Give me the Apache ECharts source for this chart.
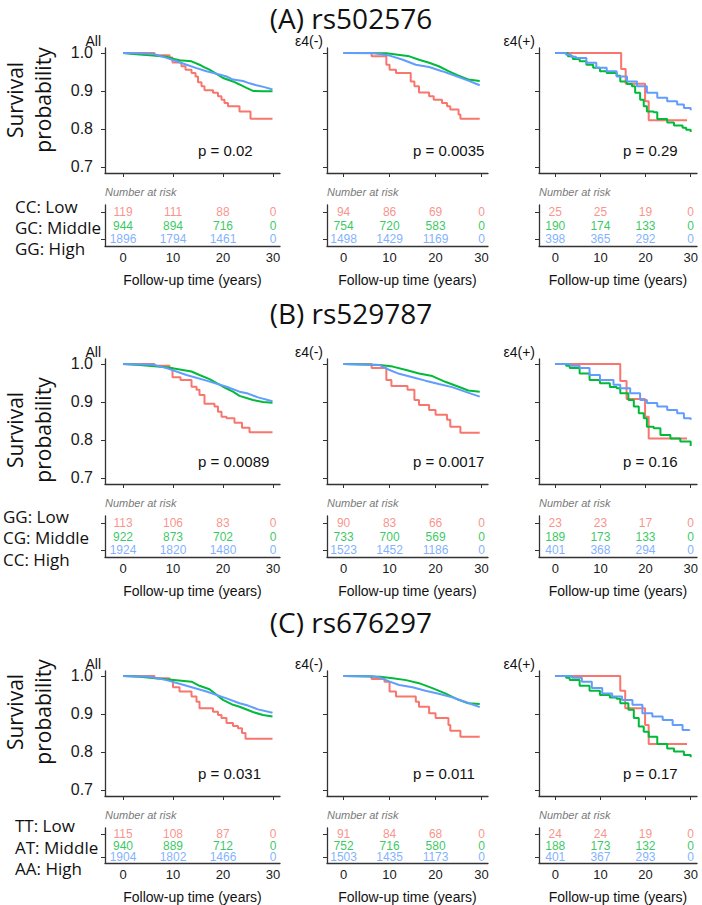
<!DOCTYPE html>
<html>
<head>
<meta charset="utf-8">
<script src="https://cdn.jsdelivr.net/npm/echarts@6/dist/echarts.min.js"></script>
<style>
html, body { margin: 0; padding: 0; background: #fff; }
#chart { width: 702px; height: 905px; }
</style>
</head>
<body>
<div id="chart"></div>
<script>
// ---- data ----
const timeTicks = [0, 10, 20, 30];
const survTicks = [0.7, 0.8, 0.9, 1.0];
const riskRows = ['High', 'Middle', 'Low'];
const snpTitles = ['(A) rs502576', '(B) rs529787', '(C) rs676297'];
const subsetNames = ['All', 'ε4(-)', 'ε4(+)'];
const groupLabels = [
  ['CC: Low', 'GC: Middle', 'GG: High'],
  ['GG: Low', 'CG: Middle', 'CC: High'],
  ['TT: Low', 'AT: Middle', 'AA: High']
];
const pValues = [
  ['p = 0.02', 'p = 0.0035', 'p = 0.29'],
  ['p = 0.0089', 'p = 0.0017', 'p = 0.16'],
  ['p = 0.031', 'p = 0.011', 'p = 0.17']
];

// number at risk: rows low / middle / high, at 0,10,20,30 years
const riskA_all = [[119, 111, 88, 0], [944, 894, 716, 0], [1896, 1794, 1461, 0]];
const riskA_neg = [[94, 86, 69, 0], [754, 720, 583, 0], [1498, 1429, 1169, 0]];
const riskA_pos = [[25, 25, 19, 0], [190, 174, 133, 0], [398, 365, 292, 0]];
const riskB_all = [[113, 106, 83, 0], [922, 873, 702, 0], [1924, 1820, 1480, 0]];
const riskB_neg = [[90, 83, 66, 0], [733, 700, 569, 0], [1523, 1452, 1186, 0]];
const riskB_pos = [[23, 23, 17, 0], [189, 173, 133, 0], [401, 368, 294, 0]];
const riskC_all = [[115, 108, 87, 0], [940, 889, 712, 0], [1904, 1802, 1466, 0]];
const riskC_neg = [[91, 84, 68, 0], [752, 716, 580, 0], [1503, 1435, 1173, 0]];
const riskC_pos = [[24, 24, 19, 0], [188, 173, 132, 0], [401, 367, 293, 0]];

// survival curves [years, probability]
const a_all_low = [[0,1],[6.3,0.994],[9.3,0.988],[9.9,0.975],[11.7,0.965],[12.5,0.956],[13.7,0.947],[14.5,0.938],[15,0.923],[15.7,0.912],[16.3,0.902],[18,0.895],[19,0.886],[19.7,0.877],[20.3,0.868],[21,0.86],[23.3,0.846],[25.5,0.827],[29.9,0.827]];
const a_all_mid = [[0,1],[1.5,0.998],[3.3,0.996],[6,0.993],[8.7,0.99],[10,0.985],[11.3,0.981],[13.7,0.978],[15.3,0.969],[16.3,0.962],[17.3,0.956],[18.7,0.945],[20,0.934],[22,0.925],[23.3,0.917],[24.7,0.908],[26,0.9],[28,0.899],[29.9,0.899]];
const a_all_high = [[0,1],[3,0.999],[6.1,0.997],[8.7,0.987],[10.7,0.978],[12.7,0.969],[14.7,0.96],[16.7,0.952],[18.7,0.945],[20.7,0.938],[22,0.93],[24,0.926],[25.3,0.92],[26.7,0.915],[28.3,0.91],[29.9,0.904]];
const a_neg_low = [[0,1],[6.1,0.991],[9.3,0.969],[10,0.956],[11.4,0.947],[14.6,0.925],[15.4,0.912],[16.4,0.896],[18.6,0.886],[19.6,0.877],[21.4,0.868],[22.5,0.86],[23.2,0.851],[25,0.838],[25.4,0.827],[29.6,0.827]];
const a_neg_mid = [[0,1],[9.3,0.999],[11.4,0.996],[14.3,0.991],[16.4,0.982],[18.6,0.974],[20.7,0.965],[22.8,0.952],[25,0.94],[27.1,0.93],[29.6,0.926]];
const a_neg_high = [[0,1],[6.3,1],[10,0.993],[12.9,0.982],[15.7,0.969],[18.6,0.963],[21.4,0.952],[24.3,0.94],[27.1,0.927],[29.6,0.915]];
const a_pos_low = [[0,1],[14.6,0.958],[15.6,0.919],[19.9,0.873],[20.7,0.823],[29.2,0.823]];
const a_pos_mid = [[0,1],[2.8,0.991],[3.9,0.984],[5.4,0.978],[6.9,0.969],[8.4,0.961],[9.9,0.952],[11.4,0.947],[13.6,0.94],[14.4,0.925],[15.9,0.918],[17,0.912],[17.7,0.895],[18.8,0.877],[19.6,0.86],[20.3,0.846],[21.8,0.844],[22.6,0.826],[24.8,0.817],[26.3,0.809],[28.2,0.803],[29,0.798],[30,0.792]];
const a_pos_high = [[0,1],[2.4,0.995],[3.5,0.99],[4.6,0.987],[6.9,0.974],[9.1,0.961],[11.4,0.952],[13.6,0.938],[15.9,0.925],[18.1,0.912],[20.3,0.895],[22.6,0.882],[24.8,0.873],[27,0.864],[28.5,0.855],[30,0.849]];

const b_all_low = [[0,1],[6.3,0.995],[9.3,0.989],[9.9,0.965],[11.5,0.958],[13.7,0.94],[14.7,0.932],[15.3,0.918],[16.3,0.895],[18.3,0.888],[19,0.874],[19.7,0.861],[20.7,0.857],[22.3,0.845],[23.8,0.832],[25.3,0.82],[29.9,0.82]];
const b_all_mid = [[0,1],[3.3,0.997],[8.7,0.991],[13.7,0.98],[15.3,0.971],[17.3,0.96],[20,0.94],[22,0.927],[23.3,0.916],[26,0.905],[28,0.9],[29.9,0.898]];
const b_all_high = [[0,1],[6,0.998],[8.7,0.989],[12.7,0.971],[16.7,0.956],[20.7,0.94],[23.3,0.927],[25,0.922],[27,0.912],[29.9,0.902]];
const b_neg_low = [[0,1],[6.1,0.989],[9.3,0.958],[10.4,0.942],[13.9,0.932],[15.4,0.905],[16.4,0.892],[18.6,0.879],[20,0.866],[22.5,0.853],[23.2,0.835],[25.4,0.819],[29.6,0.819]];
const b_neg_mid = [[0,1],[7.9,0.997],[10.7,0.993],[13.6,0.984],[16.4,0.975],[19.3,0.968],[22.1,0.953],[25,0.94],[27.1,0.93],[29.6,0.927]];
const b_neg_high = [[0,1],[6.3,0.998],[7.9,0.997],[10,0.984],[12.1,0.974],[15,0.965],[17.8,0.956],[20.7,0.947],[23.6,0.939],[26.4,0.927],[29.6,0.914]];
const b_pos_low = [[0,1],[14.4,0.955],[15.8,0.908],[19.9,0.861],[20.7,0.804],[29.2,0.804]];
const b_pos_mid = [[0,1],[2.4,0.995],[3.2,0.989],[5.4,0.975],[7.6,0.958],[9.9,0.949],[12.1,0.939],[13.6,0.936],[14.4,0.923],[16.2,0.905],[17.4,0.888],[18.5,0.87],[19.6,0.857],[20.3,0.835],[21.8,0.831],[23.3,0.813],[25.5,0.804],[27.7,0.796],[30,0.784]];
const b_pos_high = [[0,1],[3.3,0.995],[5.4,0.989],[7.6,0.971],[9.9,0.958],[12.9,0.945],[14.4,0.936],[16.6,0.923],[18.8,0.905],[20.3,0.897],[22.6,0.888],[24.8,0.879],[27,0.87],[28.5,0.857],[30,0.853]];

const c_all_low = [[0,1],[6.3,0.994],[9.3,0.989],[10,0.97],[11.3,0.959],[13.7,0.946],[14.7,0.932],[15.3,0.915],[18,0.906],[19,0.897],[19.7,0.889],[20.7,0.876],[22,0.868],[23,0.862],[23.8,0.85],[24.5,0.835],[29.9,0.835]];
const c_all_mid = [[0,1],[3.3,0.998],[8.7,0.991],[13.7,0.985],[15.3,0.974],[17.3,0.965],[20,0.937],[22,0.924],[23.3,0.919],[26,0.905],[28,0.897],[29.9,0.893]];
const c_all_high = [[0,1],[5.3,0.998],[8.7,0.989],[12.7,0.974],[16.7,0.959],[20.7,0.941],[23.3,0.928],[25,0.922],[27,0.912],[29.9,0.903]];
const c_neg_low = [[0,1],[6.1,0.992],[8.9,0.985],[10,0.959],[11.4,0.946],[15.7,0.932],[16.4,0.919],[18.6,0.902],[20,0.889],[22.8,0.871],[23.2,0.856],[25.4,0.84],[29.6,0.84]];
const c_neg_mid = [[0,1],[7.9,0.998],[10.7,0.994],[13.6,0.989],[16.4,0.981],[19.3,0.968],[22.1,0.954],[25,0.937],[27.1,0.928],[29.6,0.926]];
const c_neg_high = [[0,1],[6.3,0.999],[7.9,0.996],[10,0.985],[12.1,0.976],[15,0.97],[17.8,0.961],[20.7,0.953],[23.6,0.944],[26.4,0.932],[29.6,0.918]];
const c_pos_low = [[0,1],[14.4,0.961],[15.5,0.915],[19.9,0.871],[20.7,0.821],[29.2,0.821]];
const c_pos_mid = [[0,1],[2.4,0.995],[3.2,0.989],[5.4,0.974],[7.6,0.961],[9.9,0.95],[12.1,0.943],[13.6,0.94],[14.4,0.928],[16.2,0.911],[17.4,0.889],[18.5,0.867],[19.6,0.853],[20.7,0.84],[22.6,0.821],[24.8,0.809],[26.3,0.801],[28.5,0.792],[30,0.786]];
const c_pos_high = [[0,1],[3.7,0.995],[5.9,0.985],[8.1,0.968],[10.4,0.954],[12.6,0.946],[14.8,0.937],[17.1,0.924],[19.3,0.902],[21.5,0.893],[23.8,0.884],[26,0.871],[28.2,0.858],[29.7,0.856]];

const curves = [
  [[a_all_low, a_all_mid, a_all_high], [a_neg_low, a_neg_mid, a_neg_high], [a_pos_low, a_pos_mid, a_pos_high]],
  [[b_all_low, b_all_mid, b_all_high], [b_neg_low, b_neg_mid, b_neg_high], [b_pos_low, b_pos_mid, b_pos_high]],
  [[c_all_low, c_all_mid, c_all_high], [c_neg_low, c_neg_mid, c_neg_high], [c_pos_low, c_pos_mid, c_pos_high]]
];
const risks = [
  [riskA_all, riskA_neg, riskA_pos],
  [riskB_all, riskB_neg, riskB_pos],
  [riskC_all, riskC_neg, riskC_pos]
];

// ---- layout ----
const colors = ['#F8766D', '#00BA38', '#619CFF'];
const font = 'Liberation Sans, Arial, sans-serif';
const labelFont = 'Open Sans, Liberation Sans, sans-serif';
const colLeft = [105, 327, 539];
const colWidth = [175, 161, 158];
const kmTop = [48, 359, 671];
const kmHeight = 125;
const riskTop = [205, 516, 828];
const riskHeight = 41;
const titleY = [18, 313, 622];
const survLabelY = [100, 430, 712];
const groupLabelX = [15, 3, 15];
const groupLabelY = [[206, 227, 248], [516, 537, 559], [825, 847, 868]];
const pX = [198, 413, 623];
const axisColor = '#333';

let grids = [], xAxes = [], yAxes = [], series = [], graphics = [];

for (let r = 0; r < 3; r++) {
  graphics.push({
    type: 'text', x: 351, y: titleY[r],
    style: { text: snpTitles[r], font: '28px ' + labelFont, fill: '#111', textAlign: 'center', textVerticalAlign: 'middle', lineHeight: 30 }
  });
  graphics.push({
    type: 'text', x: 29, y: survLabelY[r], rotation: Math.PI / 2,
    style: { text: 'Survival\nprobability', font: '21px ' + labelFont, fill: '#111', textAlign: 'center', textVerticalAlign: 'middle', lineHeight: 28 }
  });
  for (let g = 0; g < 3; g++) {
    graphics.push({
      type: 'text', x: groupLabelX[r], y: groupLabelY[r][g],
      style: { text: groupLabels[r][g], font: '17px ' + labelFont, fill: '#111', textAlign: 'left', textVerticalAlign: 'middle' }
    });
  }

  for (let c = 0; c < 3; c++) {
    const km = grids.length;
    grids.push({ left: colLeft[c], top: kmTop[r], width: colWidth[c], height: kmHeight });
    const rk = grids.length;
    grids.push({ left: colLeft[c], top: riskTop[r], width: colWidth[c], height: riskHeight });

    xAxes.push({
      gridIndex: km, type: 'value', min: -3.6, max: 31.4,
      axisLine: { show: true, onZero: false, lineStyle: { color: axisColor, width: 1.3 } },
      axisTick: { show: true, customValues: timeTicks, length: 4, lineStyle: { color: axisColor } },
      axisLabel: { show: false },
      splitLine: { show: false }
    });
    yAxes.push({
      gridIndex: km, type: 'value', min: 0.684, max: 1.013,
      axisLine: { show: true, onZero: false, lineStyle: { color: axisColor, width: 1.3 } },
      axisTick: { show: true, customValues: survTicks, length: 4, lineStyle: { color: axisColor } },
      axisLabel: {
        show: c === 0, customValues: survTicks, formatter: v => v.toFixed(1),
        fontSize: 16, lineHeight: 14, fontFamily: font, color: '#1a1a1a', margin: 12
      },
      splitLine: { show: false }
    });
    xAxes.push({
      gridIndex: rk, type: 'value', min: -3.6, max: 31.4,
      name: 'Follow-up time (years)', nameLocation: 'middle', nameGap: 27,
      nameTextStyle: { fontSize: 14, fontFamily: font, color: '#111' },
      axisLine: { show: true, onZero: false, lineStyle: { color: axisColor, width: 1.3 } },
      axisTick: { show: false },
      axisLabel: { customValues: timeTicks, fontSize: 13, fontFamily: font, color: '#1a1a1a', margin: 5 },
      splitLine: { show: false }
    });
    yAxes.push({
      gridIndex: rk, type: 'category', data: riskRows,
      axisLine: { show: true, onZero: false, lineStyle: { color: axisColor, width: 1.3 } },
      axisTick: { show: true, alignWithLabel: true, length: 4, lineStyle: { color: axisColor } },
      axisLabel: { show: false },
      splitLine: { show: false }
    });

    for (let g = 0; g < 3; g++) {
      series.push({
        type: 'line', xAxisIndex: km, yAxisIndex: km,
        data: curves[r][c][g],
        step: (g === 0 || c === 2) ? 'end' : false,
        showSymbol: false, silent: true, animation: false,
        lineStyle: { color: colors[g], width: 2 }
      });
      const rowName = riskRows[2 - g];
      series.push({
        type: 'scatter', xAxisIndex: rk, yAxisIndex: rk,
        data: timeTicks.map((t, i) => [t, rowName, risks[r][c][g][i]]),
        symbolSize: 1, itemStyle: { color: 'rgba(0,0,0,0)' },
        silent: true, animation: false,
        label: {
          show: true, position: 'inside', formatter: p => p.value[2],
          color: colors[g], fontSize: 12, lineHeight: 12, fontFamily: font
        }
      });
    }

    graphics.push({
      type: 'text', x: colLeft[c] - 4, y: kmTop[r] - 7,
      style: { text: subsetNames[c], font: '14px ' + font, fill: '#111', textAlign: 'right', textVerticalAlign: 'middle', lineHeight: 12 }
    });
    graphics.push({
      type: 'text', x: pX[c], y: kmTop[r] + 102,
      style: { text: pValues[r][c], font: '15px ' + font, fill: '#111', textAlign: 'left', textVerticalAlign: 'middle' }
    });
    graphics.push({
      type: 'text', x: colLeft[c], y: riskTop[r] - 13,
      style: { text: 'Number at risk', font: 'italic 11px ' + font, fill: '#7a7a7a', textAlign: 'left', textVerticalAlign: 'middle' }
    });
  }
}

const option = {
  backgroundColor: '#fff',
  animation: false,
  grid: grids,
  xAxis: xAxes,
  yAxis: yAxes,
  series: series,
  graphic: graphics
};

let myChart = echarts.init(document.getElementById('chart'), null, { renderer: 'svg' });
myChart.setOption(option);
</script>
</body>
</html>
